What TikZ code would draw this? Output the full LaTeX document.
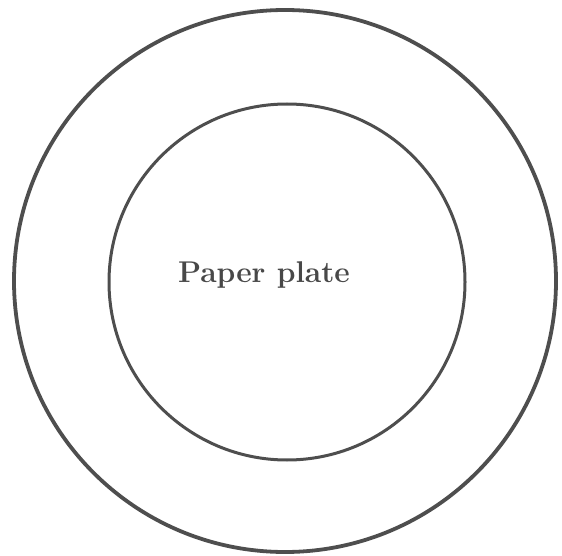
\documentclass[tikz,border=0pt]{standalone}
\usetikzlibrary{positioning}
\definecolor{PlateGray}{RGB}{78,78,78}
\definecolor{LabelGray}{RGB}{72,72,72}

\begin{document}
\begin{tikzpicture}[x=1pt, y=1pt, every node/.style={inner sep=0pt, outer sep=0pt},
  rim/.style={draw=PlateGray, circle, line width=3.8pt},
  well/.style={draw=PlateGray, circle, line width=3pt}]
  \useasboundingbox (0,0) rectangle (562,555);
  \node[rim, minimum size=542pt] (outer) at (285,274) {};
  \node[well, minimum size=356pt] (inner) at (287,273) {};
  \node[text=LabelGray, font=\fontsize{30}{34}\selectfont\bfseries] (label)
    at (264,280) {Paper plate};
\end{tikzpicture}
\end{document}
